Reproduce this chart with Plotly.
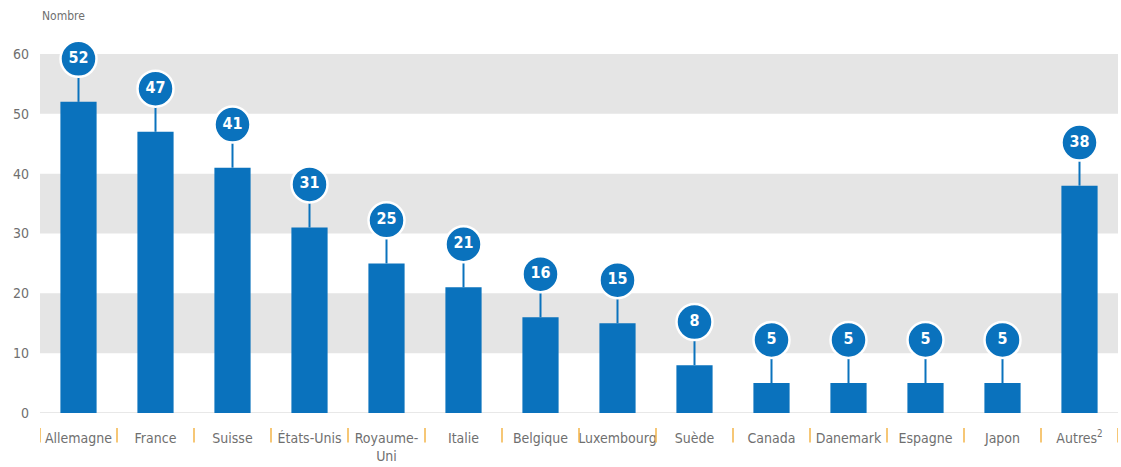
import plotly.graph_objects as go

# Number per country
countries = ["Allemagne", "France", "Suisse", "États-Unis", "Royaume-<br>Uni", "Italie",
             "Belgique", "Luxembourg", "Suède", "Canada", "Danemark", "Espagne",
             "Japon", "Autres<sup>2</sup>"]
values = [52, 47, 41, 31, 25, 21, 16, 15, 8, 5, 5, 5, 5, 38]
y_ticks = [0, 10, 20, 30, 40, 50, 60]
bands = [(10, 20), (30, 40), (50, 60)]

BLUE = "#0a72bd"
GREY_TXT = "#6f6f6f"
FONT = "DejaVu Sans Condensed, Liberation Sans Narrow, Roboto, sans-serif"
LABEL_RISE = 7.2  # vertical gap between bar top and value bubble (data units)

x = list(range(len(countries)))

fig = go.Figure()

fig.add_trace(go.Bar(x=x, y=values, width=0.47, marker=dict(color=BLUE, line=dict(width=0)),
                     hoverinfo="skip"))

# stems linking bar tops to bubbles
sx, sy = [], []
for i, v in zip(x, values):
    sx += [i, i, None]
    sy += [v, v + LABEL_RISE, None]
fig.add_trace(go.Scatter(x=sx, y=sy, mode="lines", line=dict(color=BLUE, width=2),
                         hoverinfo="skip"))

# value bubbles
fig.add_trace(go.Scatter(
    x=x, y=[v + LABEL_RISE for v in values], mode="markers+text",
    marker=dict(size=36, color=BLUE, line=dict(color="white", width=2.5)),
    text=[str(v) for v in values], textposition="middle center",
    textfont=dict(color="white", size=16, family=FONT, weight="bold"),
    hoverinfo="skip", cliponaxis=False))

shapes = []
for y0, y1 in bands:
    shapes.append(dict(type="rect", xref="paper", yref="y", x0=0, x1=1, y0=y0, y1=y1,
                       fillcolor="#e5e5e5", line=dict(width=0), layer="below"))
# baseline
shapes.append(dict(type="line", xref="paper", yref="y", x0=0, x1=1, y0=0, y1=0,
                   line=dict(color="#d0d0d0", width=1), layer="below"))
# orange separators between category labels
for k in range(len(countries) + 1):
    shapes.append(dict(type="line", xref="x", yref="paper", x0=k - 0.5, x1=k - 0.5,
                       y0=-0.042, y1=-0.082, line=dict(color="#f3b548", width=1.5)))

fig.update_layout(
    width=1121, height=467,
    margin=dict(l=40, r=3, t=54, b=54),
    plot_bgcolor="white", paper_bgcolor="white",
    showlegend=False,
    shapes=shapes,
    xaxis=dict(range=[-0.5, len(countries) - 0.5], tickmode="array", tickvals=x,
               ticktext=countries, showgrid=False, zeroline=False, showline=False,
               ticks="", ticklabelstandoff=15,
               tickfont=dict(family=FONT, size=14, color=GREY_TXT),
               fixedrange=True),
    yaxis=dict(range=[0, 60], tickmode="array", tickvals=y_ticks, showgrid=False,
               zeroline=False, showline=False, ticks="", ticklabelstandoff=10,
               tickfont=dict(family=FONT, size=14, color=GREY_TXT), fixedrange=True),
    annotations=[dict(text="Nombre", xref="paper", yref="paper", x=0, y=1, yshift=38,
                      xanchor="left", yanchor="middle", showarrow=False,
                      font=dict(family=FONT, size=12, color=GREY_TXT))],
)

fig.write_html("out.html")
